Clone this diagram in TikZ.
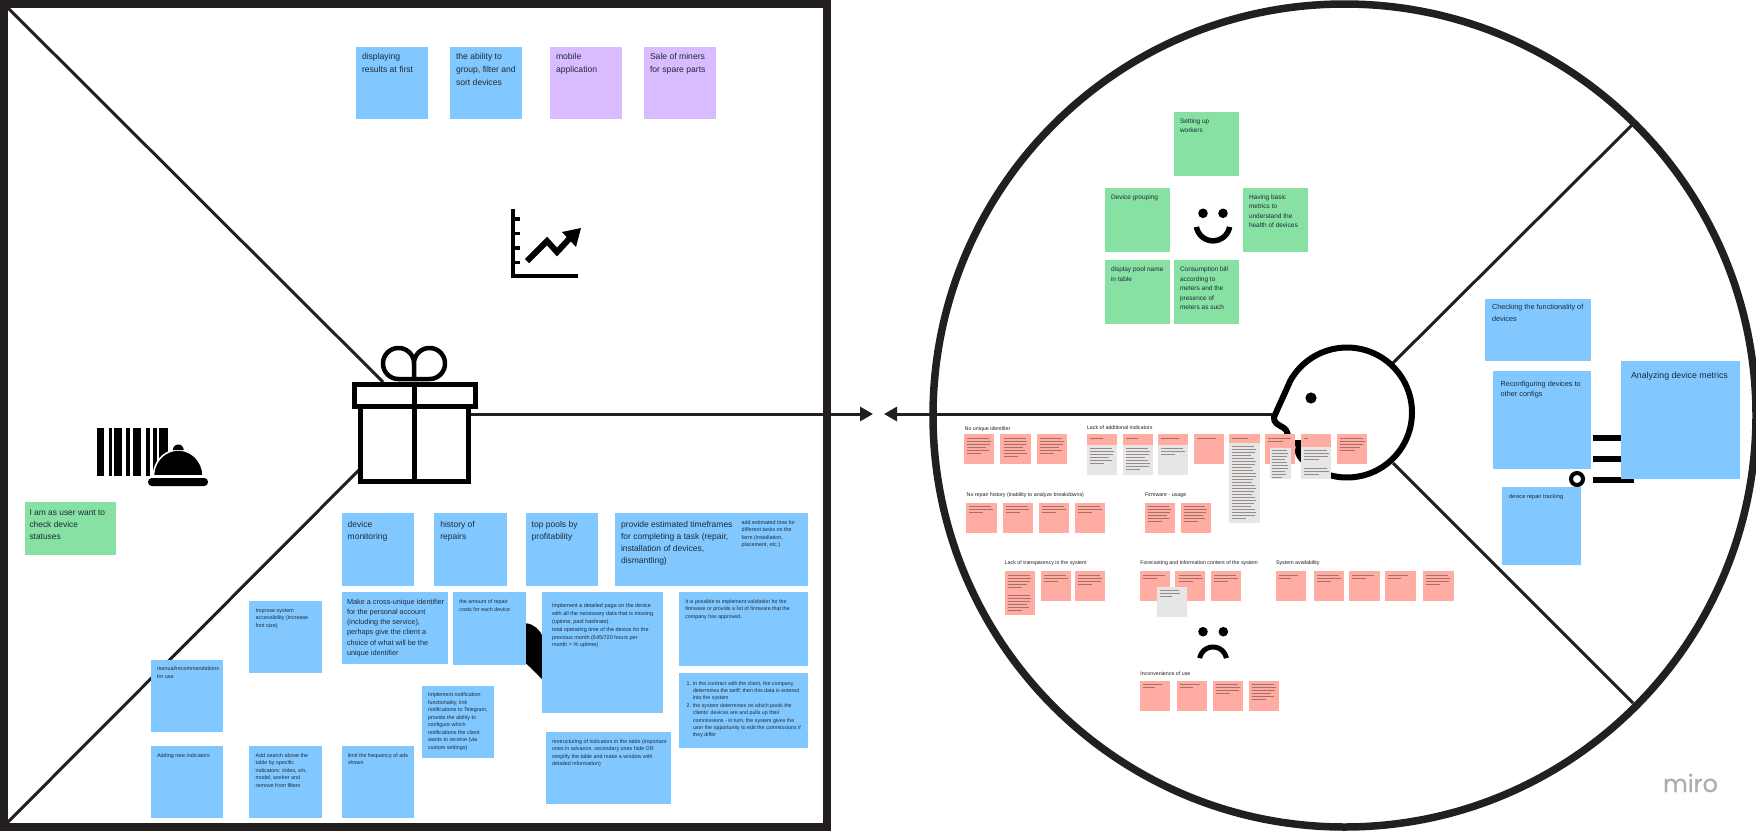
\documentclass[tikz,border=0pt]{standalone}
\usepackage{fontspec}
\setmainfont{Liberation Sans}
\newfontfamily\mirofont[FakeBold=0.6]{Poppins}
\usetikzlibrary{arrows.meta}
\definecolor{sblue}{HTML}{80C8FF}
\definecolor{sgreen}{HTML}{86E1A3}
\definecolor{spurple}{HTML}{D9BBFF}
\definecolor{spink}{HTML}{FFADA3}
\definecolor{sgray}{HTML}{E6E6E6}
\definecolor{ink}{HTML}{231F20}
\definecolor{stxtc}{HTML}{1F2A37}
\tikzset{
  stickerbox/.style={inner sep=0pt,outer sep=0pt,draw=none,anchor=north west},
  stickertext/.style={inner sep=0pt,outer sep=0pt,anchor=north west,align=left,text=stxtc},
  frameline/.style={draw=ink,line width=3pt},
  iconline/.style={draw=black,line width=5pt},
  headline/.style={draw=black,line width=6pt},
  greekline/.style={draw=black!70!spink,line width=.6pt,opacity=.5},
  heading/.style={inner sep=0pt,outer sep=0pt,anchor=west,text=ink,font=\fontsize{5.3}{6.5}\selectfont},
}
% sticker: name, colour, x1, y1, x2, y2
\newcommand{\stk}[6]{\node[stickerbox,fill=#2,minimum width={(#5-#3)*1pt},minimum height={(#6-#4)*1pt}] (#1) at (#3,#4) {};}
% text: name, x, y of first line centre, size, leading, text
\newcommand{\stx}[6]{\node[stickertext,font={\fontsize{#4}{#5}\selectfont}] (#1) at ({#2},{#3+0.26*#4-0.7*#5}) {\strut #6};}
% illegible micro text shown as thin lines: x, y, number, width
\newcommand{\gk}[4]{\foreach \i in {1,...,#3}{\draw[greekline] ({#1},{#2+3*(\i-1)}) -- ({#1+#4*(\i==#3?0.6:0.78+0.22*abs(sin(\i*137)))},{#2+3*(\i-1)});}}
\begin{document}
\begin{tikzpicture}[x=1pt,y=-1pt]
\useasboundingbox (0,0) rectangle (1756,831);
\fill[white] (0,0) rectangle (1756,831);

% ---------- left square
\draw[draw=ink,line width=8pt] (3.5,4) rectangle (827,827);
\coordinate (sqTL) at (5,5);
\coordinate (sqBL) at (2,828);
\coordinate (giftTL) at (383,382);
\coordinate (giftBL) at (359,470);
\draw[frameline] (sqTL) -- (giftTL);
\draw[frameline] (sqBL) -- (giftBL);

% gift icon
\coordinate (giftR) at (470,414);
\coordinate (tipA) at (873,414);
\draw[frameline,-{Triangle[length=13pt,width=14pt]},draw=ink] (giftR) -- (tipA);
\draw[iconline] (354.5,384.5) rectangle (475.5,406);
\draw[iconline] (360,406) -- (360,481) -- (468,481) -- (468,406);
\draw[iconline] (414,384) -- (414,481);
\draw[iconline,line width=4.5pt,line join=round] (414,379)
  -- plot[domain=-90:-360,samples=50] ({398.5+15.5*cos(\x)},{363.5-15.5*sin(\x)})
  -- (414,379)
  -- plot[domain=-90:180,samples=50] ({429.5+15.5*cos(\x)},{363.5-15.5*sin(\x)})
  -- (414,379);

% chart icon
\draw[draw=black,line width=4.5pt,line join=miter] (513,209) -- (513,276) -- (578,276);
\foreach \yy in {219,233.7,248,262.7}{\draw[draw=black,line width=3.5pt] (513,\yy) -- (520,\yy);}
\draw[draw=black,line width=6pt,line join=miter] (527,261) -- (547,241) -- (557,252) -- (570,238);
\fill[black] (581,228) -- (562,232) -- (576,247) -- cycle;

% barcode + bell
\foreach \a/\b in {96.7/104.3,108.7/112,114/121.7,126/130,133.3/141.3,146/150.3,153.3/156.7,159.3/167.7}{\fill[black] (\a,428) rectangle (\b,476);}
\fill[black,draw=white,line width=1.6pt] (153.5,476) -- plot[domain=180:0,samples=40] ({178.3+24.8*cos(\x)},{476-26*sin(\x)}) -- cycle;
\fill[black] (173,450) -- plot[domain=180:0,samples=20] ({178.3+5.3*cos(\x)},{450-5.5*sin(\x)}) -- cycle;
\fill[black,rounded corners=3.8pt] (148,478) rectangle (208,486);

% black shape behind the stickers
\fill[black] (520,623.3) -- (526,623.3) .. controls (534,624) and (540,630) .. (543,637) -- (543,680) -- (526,663.3) -- (520,663.3) -- cycle;

% ---------- right circle
\draw[draw=ink,line width=7.5pt] (1344.5,415.5) circle[radius=411.5];
\coordinate (faceN) at (1272,414);
\coordinate (tipB) at (884,414);
\draw[frameline,-{Triangle[length=13pt,width=14pt]}] (faceN) -- (tipB);
\coordinate (headU) at (1393,363);
\coordinate (rimU) at (1633,124);
\coordinate (headL) at (1393,463);
\coordinate (rimL) at (1633,703);
\draw[frameline] (headU) -- (rimU);
\draw[frameline] (headL) -- (rimL);

% head
\draw[headline,line join=round,line cap=round]
  plot[domain=-130:151,samples=90] ({1347+65*cos(\x)},{412.5-65*sin(\x)})
  .. controls (1284,395) and (1278,408) .. (1274,417)
  .. controls (1273,423) and (1279,425) .. (1284,428)
  .. controls (1288,431) and (1288,436) .. (1289,443)
  -- (1302,443)
  .. controls (1296,447) and (1296,455) .. (1305,462);
\fill[black] (1311,398) circle[radius=5.6];

% icon parts behind the stickers
\fill[black] (1593,435) rectangle (1640,441);
\fill[black] (1593,456) rectangle (1640,462);
\fill[black] (1593,476.5) rectangle (1633.5,482.5);
\draw[draw=black,line width=4pt] (1577,479) circle[radius=6];

% smile / frown
\fill[black] (1203,213.3) circle[radius=4.8];
\fill[black] (1223,213.3) circle[radius=4.8];
\draw[draw=black,line width=5.5pt] plot[domain=-170:-10,samples=40] ({1213+16.8*cos(\x)},{224-16.8*sin(\x)});
\fill[black] (1203,631.7) circle[radius=4.8];
\fill[black] (1223.3,631.7) circle[radius=4.8];
\draw[draw=black,line width=5pt] plot[domain=170:10,samples=40] ({1213+13.5*cos(\x)},{660.5-13.5*sin(\x)});

% ---------- stickers, left square
\stk{s01}{sblue}{356}{47}{428}{119}
\stx{t01}{362}{57}{8.6}{13}{displaying\\results at first}
\stk{s02}{sblue}{450}{47}{522}{119}
\stx{t02}{456}{57}{8.6}{13}{the ability to\\group, filter and\\sort devices}
\stk{s03}{spurple}{550}{47}{622}{119}
\stx{t03}{556}{57}{8.6}{13}{mobile\\application}
\stk{s04}{spurple}{644}{47}{716}{119}
\stx{t04}{650}{57}{8.6}{13}{Sale of miners\\for spare parts}

\stk{s05}{sgreen}{25}{502}{116}{555}
\stx{t05}{29.5}{513}{8.4}{12}{I am as user want to\\check device\\statuses}

\stk{s06}{sblue}{341.7}{513.3}{414}{585.7}
\stx{t06}{347.7}{525}{8.5}{12}{device\\monitoring}
\stk{s07}{sblue}{434}{513.3}{506.7}{585.7}
\stx{t07}{440.3}{525}{8.5}{12}{history of\\repairs}
\stk{s08}{sblue}{525.7}{513.3}{598}{585.7}
\stx{t08}{531.7}{525}{8.5}{12}{top pools by\\profitability}
\stk{s09}{sblue}{615}{513.3}{736}{585.7}
\stx{t09}{621}{525}{8.5}{12}{provide estimated timeframes\\for completing a task (repair,\\installation of devices,\\dismantling)}
\stk{s10}{sblue}{735.7}{513.3}{808}{585.7}
\stx{t10}{741.7}{522.7}{5.4}{7.6}{add estimated time for\\different tasks on the\\farm (installation,\\placement, etc.)}

\stk{s11}{sblue}{341.7}{592.3}{448.3}{663.7}
\stx{t11}{347}{602.3}{7.3}{10.2}{Make a cross-unique identifier\\for the personal account\\(including the service),\\perhaps give the client a\\choice of what will be the\\unique identifier}
\stk{s12}{sblue}{453.3}{592.3}{525.7}{664.7}
\stx{t12}{459.3}{602}{5.4}{7.6}{the amount of repair\\costs for each device}
\stk{s13}{sblue}{542}{592.3}{662.7}{712.7}
\stx{t13}{552}{606}{5.5}{7.9}{Implement a detailed page on the device\\with all the necessary data that is missing\\(uptime, paid hashrate).\\total operating time of the device for the\\previous month (645/720 hours per\\month = \% uptime)}
\stk{s14}{sblue}{679}{592.3}{808}{666.3}
\stx{t14}{685.3}{602}{5.3}{7.5}{It is possible to implement validation for the\\firmware or provide a list of firmware that the\\company has approved.}
\stk{s15}{sblue}{679.3}{673.3}{808}{747.7}
\stx{t15}{686.7}{683.7}{5.3}{7.4}{\makebox[6.3pt][l]{1.}In the contract with the client, the company\\\hspace*{6.3pt}determines the tariff, then this data is entered\\\hspace*{6.3pt}into the system\\\makebox[6.3pt][l]{2.}the system determines on which pools the\\\hspace*{6.3pt}clients' devices are and pulls up their\\\hspace*{6.3pt}commissions - in turn, the system gives the\\\hspace*{6.3pt}user the opportunity to edit the commissions if\\\hspace*{6.3pt}they differ}
\stk{s16}{sblue}{545.7}{732.3}{671}{804}
\stx{t16}{552}{741.7}{5.4}{7.6}{restructuring of indicators in the table (important\\ones in advance, secondary ones hide OR\\simplify the table and make a window with\\detailed information)}
\stk{s17}{sblue}{249.3}{601}{321.7}{673.3}
\stx{t17}{255.7}{611}{5.4}{7.5}{Improve system\\accessibility (increase\\font size)}
\stk{s18}{sblue}{151}{659.7}{223.3}{731.7}
\stx{t18}{157}{669.3}{5.4}{7.6}{manual/recommendations\\for use}
\stk{s19}{sblue}{151}{746}{223.3}{818.3}
\stx{t19}{157}{755.7}{5.4}{7.6}{Adding new indicators}
\stk{s20}{sblue}{249.3}{746}{321.7}{818.3}
\stx{t20}{255.7}{755.7}{5.4}{7.5}{Add search above the\\table by specific\\indicators: index, s/n,\\model, worker and\\remove from filters}
\stk{s21}{sblue}{341.7}{746}{414}{818.3}
\stx{t21}{348}{755.7}{5.4}{7.5}{limit the frequency of ads\\shown}
\stk{s22}{sblue}{421.7}{685.7}{493.7}{758}
\stx{t22}{428}{695.3}{5.4}{7.5}{Implement notification\\functionality, link\\notifications to Telegram,\\provide the ability to\\configure which\\notifications the client\\wants to receive (via\\custom settings)}

% ---------- stickers, happy
\stk{s23}{sgreen}{1174.3}{111.7}{1238.7}{175.7}
\stx{t23}{1180}{121.7}{6.5}{9.6}{Setting up\\workers}
\stk{s24}{sgreen}{1105.3}{187.7}{1169.7}{251.7}
\stx{t24}{1111}{197.7}{6.5}{9.6}{Device grouping}
\stk{s25}{sgreen}{1243.3}{187.7}{1307.7}{251.7}
\stx{t25}{1249}{197.7}{6.5}{9.5}{Having basic\\metrics to\\understand the\\health of devices}
\stk{s26}{sgreen}{1105.3}{260}{1169.7}{324}
\stx{t26}{1111}{270.3}{6.5}{9.6}{display pool name\\in table}
\stk{s27}{sgreen}{1174.3}{260}{1238.7}{324}
\stx{t27}{1180}{270.3}{6.5}{9.5}{Consumption bill\\according to\\meters and the\\presence of\\meters as such}

% ---------- stickers, right side
\stk{s28}{sblue}{1484.5}{299}{1591}{361}
\stx{t28}{1492}{308}{7.3}{11.5}{Checking the functionality of\\devices}
\stk{s29}{sblue}{1492.7}{371}{1591}{469.3}
\stx{t29}{1500.7}{384.3}{7.3}{10}{Reconfiguring devices to\\other configs}
\stk{s30}{sblue}{1621}{361}{1740}{479.3}
\stx{t30}{1631}{376.7}{8.8}{11}{Analyzing device metrics}
\stk{s31}{sblue}{1502.3}{486.7}{1581.3}{565.3}
\stx{t31}{1509}{497}{5.7}{7.5}{device repair tracking}

% ---------- pain headings
\node[heading] (h1) at (964.7,429) {No unique identifier};
\node[heading] (h2) at (1087,428) {Lack of additional indicators};
\node[heading] (h3) at (966.7,495) {No repair history (inability to analyze breakdowns)};
\node[heading] (h4) at (1145,495) {Firmware - usage};
\node[heading] (h5) at (1004.7,563.3) {Lack of transparency in the system};
\node[heading] (h6) at (1140.3,563.3) {Forecasting and information content of the system};
\node[heading] (h7) at (1276,563.3) {System availability};
\node[heading] (h8) at (1140.3,673.7) {Inconvenience of use};

% ---------- pain stickers
\stk{p01}{spink}{964.3}{434.3}{994.3}{464.3}  \gk{967}{438.3}{6}{24}
\stk{p02}{spink}{1000.3}{434.3}{1031}{464.3}  \gk{1003.5}{438.3}{7}{24}
\stk{p03}{spink}{1036.7}{434.3}{1067}{464.3}  \gk{1040}{438.3}{6}{24}

\stk{p04}{sgray}{1087}{444.7}{1117}{474.7}
\stk{p05}{spink}{1087}{434.3}{1117}{444.7}  \gk{1090}{438.7}{1}{22} \gk{1090}{448}{6}{24}
\stk{p06}{sgray}{1122.7}{444.7}{1152.7}{475}
\stk{p07}{spink}{1122.7}{434.3}{1152.7}{444.7}  \gk{1126}{438.7}{1}{20} \gk{1126}{448}{8}{24}
\stk{p08}{sgray}{1158.3}{444.7}{1188.3}{474.7}
\stk{p09}{spink}{1158.3}{434.3}{1188.3}{444.7}  \gk{1161}{438.7}{1}{30} \gk{1161}{448}{3}{24}
\stk{p10}{spink}{1193.7}{434.3}{1224}{464.3}  \gk{1196.5}{438.7}{1}{32}
\stk{p11}{sgray}{1229.3}{442.7}{1260}{522.7}
\stk{p12}{spink}{1229.3}{434.3}{1260}{442.7}  \gk{1232}{438.7}{1}{26} \gk{1232}{446}{25}{24}
\stk{p13}{spink}{1265.3}{434.3}{1295.3}{464.3}  \gk{1268}{438.7}{2}{25}
\stk{p14}{sgray}{1270}{447.7}{1291}{479}  \gk{1272}{450}{10}{16}
\stk{p15}{sgray}{1301}{446.7}{1331}{479}
\stk{p16}{spink}{1301}{434.3}{1331}{446.7}  \gk{1304}{438.7}{1}{6} \gk{1304}{450}{4}{25} \gk{1304}{468}{3}{25}
\stk{p17}{spink}{1336.7}{434.3}{1366.7}{464.3}  \gk{1339.5}{438.5}{5}{25}

\stk{p18}{spink}{966.3}{503}{996.7}{533}  \gk{969}{506.7}{3}{24}
\stk{p19}{spink}{1002.7}{503}{1032.7}{533}  \gk{1005.5}{506.7}{3}{24}
\stk{p20}{spink}{1038.7}{503}{1069}{533}  \gk{1041.5}{506.7}{3}{24}
\stk{p21}{spink}{1075}{503}{1105}{533}  \gk{1078}{506.7}{3}{24}
\stk{p22}{spink}{1145}{503}{1175.3}{533}  \gk{1148}{506.7}{6}{23}
\stk{p23}{spink}{1180.7}{503}{1211}{533}  \gk{1184}{506.7}{6}{23}

\stk{p24}{spink}{1004.7}{571.3}{1035}{615}  \gk{1007.5}{575}{5}{24} \gk{1007.5}{595}{6}{24}
\stk{p25}{spink}{1040.7}{571.3}{1071}{601.3}  \gk{1044}{575}{3}{24}
\stk{p26}{spink}{1075}{571.3}{1105}{601.3}  \gk{1078}{575}{4}{24}
\stk{p27}{spink}{1140.3}{571.3}{1170.3}{601.3}  \gk{1143}{575}{2}{24}
\stk{p28}{spink}{1175.3}{571.3}{1205.3}{601.3}  \gk{1178.5}{575}{3}{24}
\stk{p29}{spink}{1211}{571.3}{1241}{601.3}  \gk{1214}{575}{3}{24}
\stk{p30}{sgray}{1157.3}{587.3}{1187.3}{617.3}  \gk{1160}{590.5}{3}{20}
\stk{p31}{spink}{1276}{571.3}{1306}{601.3}  \gk{1279}{575}{2}{20}
\stk{p32}{spink}{1313.7}{571.3}{1344}{601.3}  \gk{1316.5}{575}{3}{24}
\stk{p33}{spink}{1349.3}{571.3}{1380}{601.3}  \gk{1352}{575}{2}{24}
\stk{p34}{spink}{1385.3}{571.3}{1415.7}{601.3}  \gk{1388}{575}{2}{22}
\stk{p35}{spink}{1423.3}{571.3}{1453.7}{601.3}  \gk{1426}{575}{4}{24}

\stk{p36}{spink}{1140.3}{681}{1170.3}{711}  \gk{1143}{684.5}{2}{20}
\stk{p37}{spink}{1176.7}{681}{1206.7}{711}  \gk{1179.5}{684.5}{2}{22}
\stk{p38}{spink}{1213}{681}{1243}{711}  \gk{1216}{684.5}{4}{24}
\stk{p39}{spink}{1249}{681}{1279.3}{711}  \gk{1252}{684.5}{6}{24}

% logo
\node[inner sep=0pt,outer sep=0pt,anchor=base west,text=black!32,font={\mirofont\fontsize{24}{24}\selectfont}] (logo) at (1663,792) {miro};
\end{tikzpicture}
\end{document}
